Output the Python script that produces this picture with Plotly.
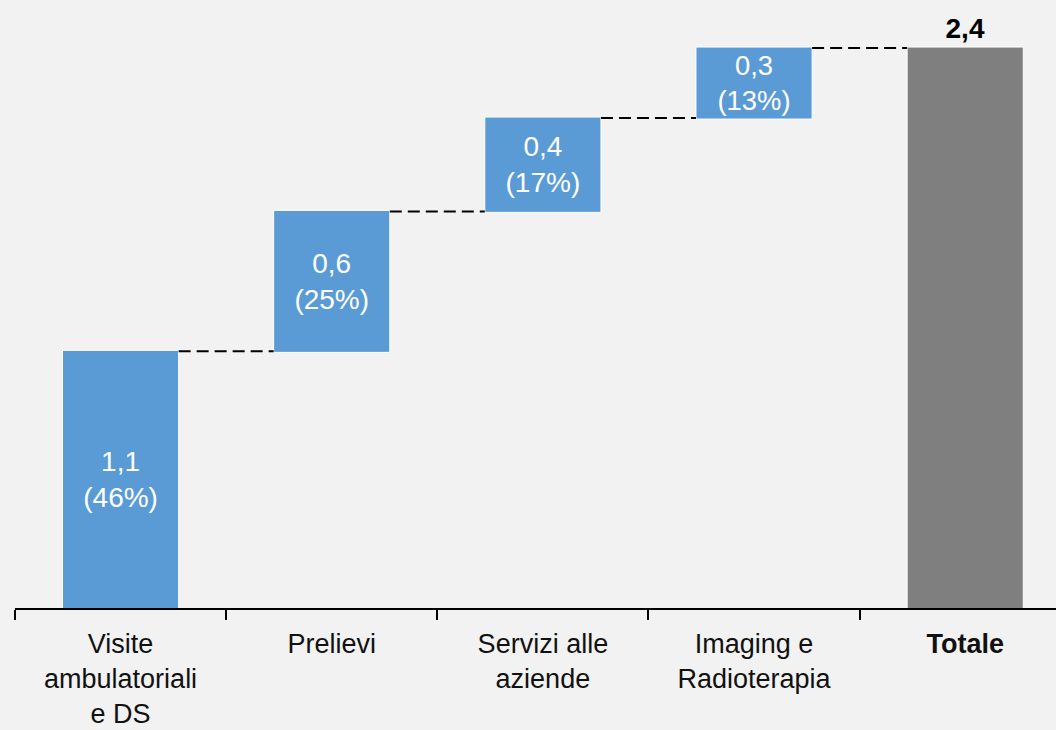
import plotly.graph_objects as go

categories = ["Visite<br>ambulatoriali<br>e DS", "Prelievi", "Servizi alle<br>aziende",
              "Imaging e<br>Radioterapia", "<b>Totale</b>"]
values = [1.1, 0.6, 0.4, 0.3, 2.4]
shares = [46, 25, 17, 13]
measures = ["relative", "relative", "relative", "relative", "total"]

def fmt(v):
    return f"{v:.1f}".replace(".", ",")

texts = [f"{fmt(v)}<br>({s}%)" for v, s in zip(values[:4], shares)] + [f"<b>{fmt(values[4])}</b>"]
positions = ["inside"] * 4 + ["outside"]

FONT = "Liberation Sans, Arial"
FS = 28

fig = go.Figure(go.Waterfall(
    x=categories,
    y=[v if m == "relative" else 0 for v, m in zip(values, measures)],
    measure=measures,
    text=texts,
    textposition=positions,
    insidetextanchor="middle",
    insidetextfont=dict(color="white", size=FS, family=FONT),
    outsidetextfont=dict(color="black", size=FS, family=FONT),
    increasing=dict(marker=dict(color="#5b9bd5", line=dict(color="white", width=1))),
    totals=dict(marker=dict(color="#7f7f7f", line=dict(color="white", width=1))),
    connector=dict(line=dict(color="black", width=2, dash="12px,6px"), mode="between"),
    width=0.55,
    cliponaxis=False,
))

fig.update_layout(
    width=1056, height=730,
    margin=dict(l=15, r=0, t=0, b=122),
    paper_bgcolor="#f2f2f2", plot_bgcolor="#f2f2f2",
    showlegend=False,
    font=dict(family=FONT, size=FS, color="#111111"),
    xaxis=dict(
        type="category",
        range=[-0.5, 4.43],
        automargin=False,
        showline=True, linecolor="black", linewidth=1.5,
        ticks="outside", tickson="boundaries", ticklen=10, tickwidth=1.5, tickcolor="black",
        ticklabelstandoff=11,
        showgrid=False, zeroline=False,
        tickfont=dict(size=27, color="#111111"),
    ),
    yaxis=dict(
        range=[0, 2.606], visible=False, showgrid=False, zeroline=False,
        automargin=False,
    ),
)

fig.write_html(
    "out.html",
    config={"displayModeBar": False},
    post_script="document.body.style.margin='0';document.body.style.background='#f2f2f2';",
)
